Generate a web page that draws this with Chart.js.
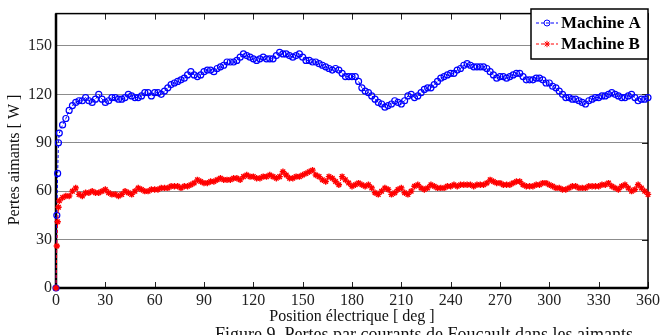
<!DOCTYPE html>
<html>
<head>
<meta charset="utf-8">
<script src="https://cdn.jsdelivr.net/npm/chart.js@4.4.0/dist/chart.umd.min.js"></script>
<style>
  html, body { margin: 0; padding: 0; background: #fff; }
  #wrap { width: 663px; height: 335px; overflow: hidden; }
</style>
</head>
<body>
<div id="wrap"><canvas id="chart" width="663" height="335"></canvas></div>
<script>
// sampling of the electrical position (deg): a few early points, then every 2 deg
const startAngles = [0, 0.5, 1, 1.5];
const angles = startAngles.slice();
for (let a = 2; a <= 360; a += 2) angles.push(a);

// Machine A losses [W]
const machineA = [
  0, 45, 71, 90,
  96, 101, 105, 110, 113, 115, 116, 116, 118, 116,
  115, 117, 120, 117, 115, 116, 118, 118, 117, 117,
  118, 120, 119, 118, 118, 119, 121, 121, 119, 121,
  121, 120, 122, 124, 126, 127, 128, 129, 130, 132,
  134, 132, 131, 132, 134, 135, 135, 134, 136, 137,
  138, 140, 140, 140, 141, 143, 145, 144, 143, 142,
  141, 142, 143, 142, 142, 142, 144, 146, 145, 145,
  144, 143, 144, 145, 143, 141, 141, 140, 140, 139,
  138, 137, 136, 135, 136, 135, 133, 131, 131, 131,
  131, 128, 124, 122, 121, 119, 117, 115, 114, 112,
  113, 114, 116, 115, 114, 116, 119, 120, 118, 119,
  121, 123, 124, 124, 126, 128, 130, 131, 132, 133,
  133, 135, 136, 138, 139, 138, 137, 137, 137, 137,
  136, 134, 132, 130, 131, 131, 130, 131, 132, 133,
  133, 131, 129, 129, 129, 130, 130, 129, 127, 127,
  125, 124, 122, 120, 118, 118, 117, 117, 116, 115,
  114, 116, 117, 118, 118, 119, 119, 120, 121, 120,
  119, 118, 118, 119, 120, 118, 116, 117, 117, 118
];

// Machine B losses [W]
const machineB = [
  0, 26, 41, 50,
  54, 56, 57, 57, 60, 62, 58, 57, 59, 59,
  60, 59, 59, 60, 61, 59, 58, 58, 57, 58,
  60, 59, 58, 60, 62, 61, 60, 60, 61, 61,
  61, 62, 62, 62, 63, 63, 63, 62, 63, 63,
  64, 65, 67, 66, 65, 65, 66, 66, 67, 68,
  67, 67, 67, 68, 68, 67, 69, 70, 69, 69,
  68, 68, 69, 69, 70, 69, 68, 69, 72, 70,
  68, 68, 69, 69, 70, 71, 72, 73, 70, 69,
  67, 66, 69, 68, 66, 64, 69, 67, 65, 63,
  64, 65, 64, 63, 64, 62, 59, 58, 60, 62,
  61, 58, 59, 61, 62, 59, 58, 60, 63, 64,
  62, 61, 62, 64, 63, 62, 62, 62, 63, 63,
  64, 63, 64, 64, 64, 64, 63, 64, 64, 64,
  65, 67, 66, 65, 65, 64, 64, 64, 65, 66,
  66, 64, 63, 63, 63, 64, 64, 65, 65, 64,
  63, 62, 62, 61, 61, 62, 63, 63, 62, 62,
  62, 63, 63, 63, 63, 64, 64, 65, 63, 62,
  61, 63, 64, 62, 60, 61, 64, 62, 60, 58
];

const xTicks = [0, 30, 60, 90, 120, 150, 180, 210, 240, 270, 300, 330, 360];
const yTicks = [0, 30, 60, 90, 120, 150];
const yTitle = 'Pertes aimants [ W ]';
const captionText = "Figure 9. Pertes par courants de Foucault dans les aimants";

const SERIF = "'Liberation Serif', 'Times New Roman', serif";

function pts(values) {
  return values.map((v, i) => ({ x: angles[i], y: v }));
}

// box, inner tick marks and thick axes like the matlab figure
const framePlugin = {
  id: 'frame',
  beforeDatasetsDraw(chart) {
    const { ctx, chartArea: a, scales: { x, y } } = chart;
    ctx.save();
    ctx.strokeStyle = '#222';
    ctx.lineWidth = 1;
    ctx.beginPath();
    xTicks.forEach(v => {
      const px = Math.round(x.getPixelForValue(v)) + 0.5;
      ctx.moveTo(px, a.top); ctx.lineTo(px, a.top + 6);
      ctx.moveTo(px, a.bottom); ctx.lineTo(px, a.bottom - 6);
    });
    yTicks.forEach(v => {
      const py = Math.round(y.getPixelForValue(v)) + 0.5;
      ctx.moveTo(a.right, py); ctx.lineTo(a.right - 6, py);
    });
    ctx.stroke();

    ctx.strokeStyle = '#000';
    ctx.lineWidth = 1.5;
    ctx.strokeRect(a.left, a.top, a.right - a.left, a.bottom - a.top);
    ctx.lineWidth = 2.5;
    ctx.beginPath();
    ctx.moveTo(a.left, a.bottom); ctx.lineTo(a.right, a.bottom);
    ctx.moveTo(a.left, a.top); ctx.lineTo(a.left, a.bottom);
    ctx.stroke();

    // y axis title, a bit below the middle as in the figure
    ctx.fillStyle = '#111';
    ctx.font = '16px ' + SERIF;
    ctx.textAlign = 'center';
    ctx.textBaseline = 'middle';
    ctx.translate(15, 160);
    ctx.rotate(-Math.PI / 2);
    ctx.fillText(yTitle, 0, 0);
    ctx.restore();
  }
};

// boxed legend in the top right corner
const boxLegend = {
  id: 'boxLegend',
  afterDraw(chart) {
    const { ctx } = chart;
    const bx = 531, by = 9, bw = 117, bh = 50;
    ctx.save();
    ctx.fillStyle = '#fff';
    ctx.fillRect(bx, by, bw, bh);
    ctx.strokeStyle = '#000';
    ctx.lineWidth = 1.5;
    ctx.strokeRect(bx, by, bw, bh);
    chart.data.datasets.forEach((ds, i) => {
      const cy = by + 14 + i * 21;
      ctx.strokeStyle = ds.borderColor;
      ctx.lineWidth = 1;
      ctx.setLineDash(ds.borderDash);
      ctx.beginPath();
      ctx.moveTo(bx + 5, cy); ctx.lineTo(bx + 27, cy);
      ctx.stroke();
      ctx.setLineDash([]);
      ctx.fillStyle = ds.pointBackgroundColor;
      Chart.helpers.drawPoint(ctx, {
        pointStyle: ds.pointStyle, radius: ds.pointRadius,
        borderWidth: ds.pointBorderWidth, rotation: 0
      }, bx + 16, cy);
      ctx.fillStyle = '#000';
      ctx.font = "bold 17px " + SERIF;
      ctx.textBaseline = 'middle';
      ctx.textAlign = 'left';
      ctx.fillText(ds.label, bx + 30, cy + 1);
    });
    ctx.restore();
  }
};

// caption under the figure (cut by the bottom edge)
const caption = {
  id: 'caption',
  afterDraw(chart) {
    const { ctx } = chart;
    ctx.save();
    ctx.fillStyle = '#111';
    ctx.font = "18px " + SERIF;
    ctx.textAlign = 'left';
    ctx.textBaseline = 'alphabetic';
    ctx.fillText(captionText, 215, 340);
    ctx.restore();
  }
};

new Chart(document.getElementById('chart'), {
  type: 'line',
  data: {
    datasets: [
      {
        label: 'Machine A',
        data: pts(machineA),
        borderColor: '#0000ff',
        borderWidth: 1,
        borderDash: [3, 2],
        pointStyle: 'circle',
        pointRadius: 3,
        pointBorderWidth: 1.2,
        pointBorderColor: '#0000ff',
        pointBackgroundColor: 'rgba(0,0,0,0)',
        tension: 0,
        clip: false,
        order: 2
      },
      {
        label: 'Machine B',
        data: pts(machineB),
        borderColor: '#ff0000',
        borderWidth: 1,
        borderDash: [3, 2],
        pointStyle: 'star',
        pointRadius: 3.2,
        pointBorderWidth: 1.4,
        pointBorderColor: '#ff0000',
        pointBackgroundColor: '#ff0000',
        tension: 0,
        clip: false,
        order: 1
      }
    ]
  },
  options: {
    responsive: false,
    animation: false,
    devicePixelRatio: 1,
    layout: { padding: { top: 5, right: 11, left: 0, bottom: 0 } },
    plugins: {
      legend: { display: false },
      tooltip: { enabled: false }
    },
    scales: {
      x: {
        type: 'linear',
        min: 0,
        max: 360,
        afterBuildTicks: s => { s.ticks = xTicks.map(v => ({ value: v })); },
        afterFit: s => { s.height = 47; },
        grid: { display: false, drawTicks: false },
        border: { display: false },
        ticks: {
          padding: 3,
          maxRotation: 0,
          autoSkip: false,
          color: '#222',
          font: { family: SERIF, size: 16 }
        },
        title: {
          display: true,
          text: 'Position électrique [ deg ]',
          color: '#111',
          font: { family: SERIF, size: 16 },
          padding: { top: 0, bottom: 9 }
        }
      },
      y: {
        min: 0,
        max: 170,
        afterBuildTicks: s => { s.ticks = yTicks.map(v => ({ value: v })); },
        afterFit: s => { s.width = 56; },
        grid: { color: '#8c8c8c', lineWidth: 1, drawTicks: false },
        border: { display: false },
        ticks: {
          padding: 4,
          color: '#222',
          font: { family: SERIF, size: 16 }
        }
      }
    }
  },
  plugins: [framePlugin, boxLegend, caption]
});
</script>
</body>
</html>
